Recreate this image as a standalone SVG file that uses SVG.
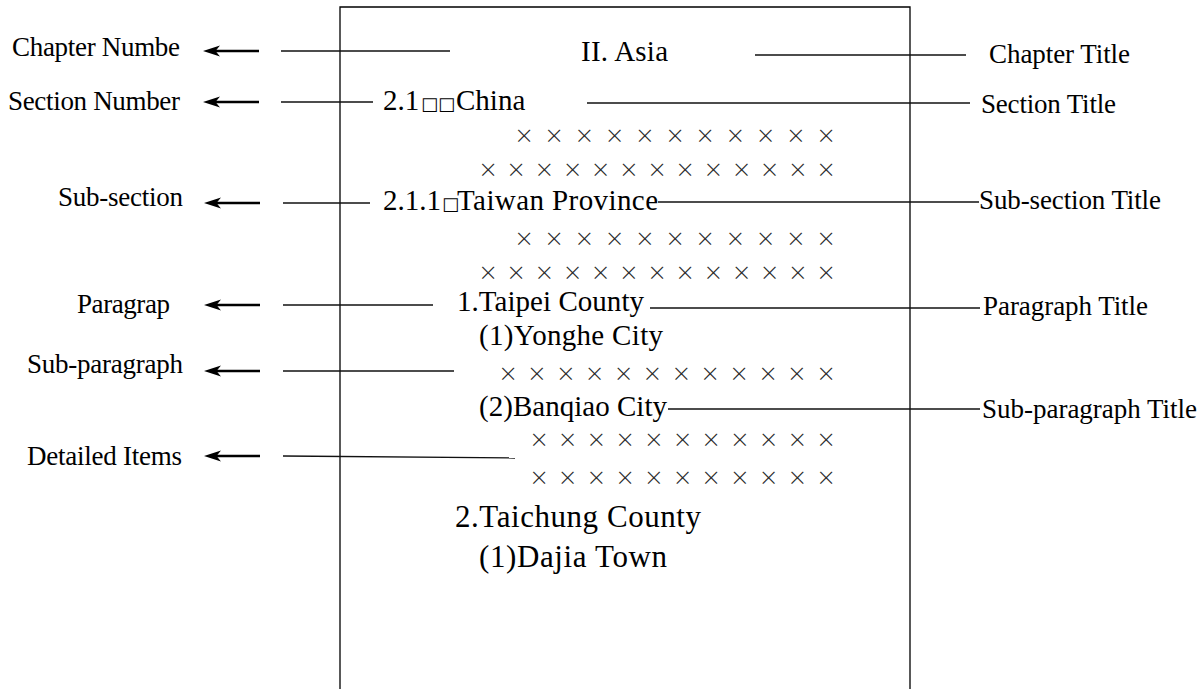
<svg xmlns="http://www.w3.org/2000/svg" width="1202" height="689" viewBox="0 0 1202 689">
<style>
.lbl{font-family:"Liberation Serif","Times New Roman",serif;font-size:27px;fill:#000}
.ctr{font-family:"Liberation Serif","Times New Roman",serif;font-size:29px;fill:#000}
.big{font-family:"Liberation Serif","Times New Roman",serif;font-size:31px;fill:#000}
.sq{font-family:"DejaVu Sans",sans-serif;font-size:18px}
.xx{font-family:Inter,"DejaVu Sans",sans-serif;font-weight:200;font-size:29px;fill:#2a2a2a;text-anchor:middle}
.ln{stroke:#111;stroke-width:1.3;fill:none}
.ar{stroke:#000;stroke-width:2.6;fill:none;marker-end:url(#ah)}
.pg{stroke:#000;stroke-width:1.3;fill:none}
</style>
<defs>
<marker id="ah" viewBox="0 -7 18 14" refX="9" refY="0" markerWidth="18" markerHeight="14" markerUnits="userSpaceOnUse" orient="auto">
<path d="M0,-5.5 L17,0 L0,5.5 L4.5,0 Z" fill="#000"/>
</marker>
</defs>
<rect width="1202" height="689" fill="#fff"/>
<g id="page"><path class="pg" d="M340,700 V7 H910 V700"/></g>

<g id="left-labels">
<g id="lbl-chapter-number"><text class="lbl" x="12" y="56" textLength="168">Chapter Numbe</text></g>
<g id="lbl-section-number"><text class="lbl" x="8" y="110" textLength="172">Section Number</text></g>
<g id="lbl-subsection"><text class="lbl" x="58" y="206" textLength="125">Sub-section</text></g>
<g id="lbl-paragraph"><text class="lbl" x="77" y="313" textLength="93">Paragrap</text></g>
<g id="lbl-subparagraph"><text class="lbl" x="27" y="373" textLength="156">Sub-paragraph</text></g>
<g id="lbl-detailed"><text class="lbl" x="27" y="465" textLength="155">Detailed Items</text></g>
</g>

<g id="right-labels">
<g id="lbl-chapter-title"><text class="lbl" x="989" y="63" textLength="141">Chapter Title</text></g>
<g id="lbl-section-title"><text class="lbl" x="981" y="113" textLength="135">Section Title</text></g>
<g id="lbl-subsection-title"><text class="lbl" x="979" y="209" textLength="182">Sub-section Title</text></g>
<g id="lbl-paragraph-title"><text class="lbl" x="983" y="315" textLength="165">Paragraph Title</text></g>
<g id="lbl-subparagraph-title"><text class="lbl" x="982" y="418" textLength="215">Sub-paragraph Title</text></g>
</g>

<g id="page-content">
<g id="t-asia"><text class="ctr" x="581" y="61" textLength="87">II. Asia</text></g>
<g id="t-china"><text class="ctr" x="383" y="110">2.1<tspan class="sq" x="421">□</tspan><tspan class="sq" x="438">□</tspan><tspan x="456">China</tspan></text></g>
<g id="t-taiwan"><text class="ctr" x="383" y="210">2.1.1<tspan class="sq" x="442">□</tspan><tspan x="457" textLength="201">Taiwan Province</tspan></text></g>
<g id="t-taipei"><text class="ctr" x="457" y="311" textLength="187">1.Taipei County</text></g>
<g id="t-yonghe"><text class="ctr" x="479" y="345" textLength="184">(1)Yonghe City</text></g>
<g id="t-banqiao"><text class="ctr" x="479" y="416" textLength="188">(2)Banqiao City</text></g>
<g id="t-taichung"><text class="big" x="455" y="527" textLength="246">2.Taichung County</text></g>
<g id="t-dajia"><text class="big" x="479" y="567" textLength="188">(1)Dajia Town</text></g>

<g id="x-rows">
<text class="xx" y="144" x="524 554.2 584.4 614.6 644.8 675 705.2 735.4 765.6 795.8 826">×××××××××××</text>
<text class="xx" y="178" x="488 516.2 544.3 572.5 600.7 628.8 657 685.2 713.3 741.5 769.7 797.8 826">×××××××××××××</text>
<text class="xx" y="247" x="524 554.2 584.4 614.6 644.8 675 705.2 735.4 765.6 795.8 826">×××××××××××</text>
<text class="xx" y="281" x="488 516.2 544.3 572.5 600.7 628.8 657 685.2 713.3 741.5 769.7 797.8 826">×××××××××××××</text>
<text class="xx" y="382" x="508 536.9 565.8 594.7 623.5 652.4 681.3 710.2 739.1 768 796.9 826">××××××××××××</text>
<text class="xx" y="448" x="539 567.7 596.4 625.1 653.8 682.5 711.2 739.9 768.6 797.3 826">×××××××××××</text>
<text class="xx" y="486" x="539 567.7 596.4 625.1 653.8 682.5 711.2 739.9 768.6 797.3 826">×××××××××××</text>
</g>
</g>

<g id="connectors">
<line class="ar" x1="259" y1="51" x2="211" y2="51"/>
<line class="ar" x1="259" y1="102" x2="211" y2="102"/>
<line class="ar" x1="260" y1="203" x2="212" y2="203"/>
<line class="ar" x1="260" y1="305" x2="212" y2="305"/>
<line class="ar" x1="260" y1="371" x2="212" y2="371"/>
<line class="ar" x1="260" y1="456" x2="212" y2="456"/>
<line class="ln" x1="281" y1="51" x2="450" y2="51"/>
<line class="ln" x1="281" y1="102" x2="373" y2="102"/>
<line class="ln" x1="283" y1="203" x2="370" y2="203"/>
<line class="ln" x1="283" y1="305" x2="433" y2="305"/>
<line class="ln" x1="283" y1="371" x2="454" y2="371"/>
<line class="ln" x1="283" y1="456" x2="515" y2="458"/>
<line class="ln" x1="755" y1="55" x2="966" y2="55"/>
<line class="ln" x1="587" y1="103" x2="970" y2="103"/>
<line class="ln" x1="658" y1="202" x2="979" y2="202"/>
<line class="ln" x1="650" y1="308" x2="980" y2="308"/>
<line class="ln" x1="668" y1="409" x2="980" y2="409"/>
</g>
</svg>
